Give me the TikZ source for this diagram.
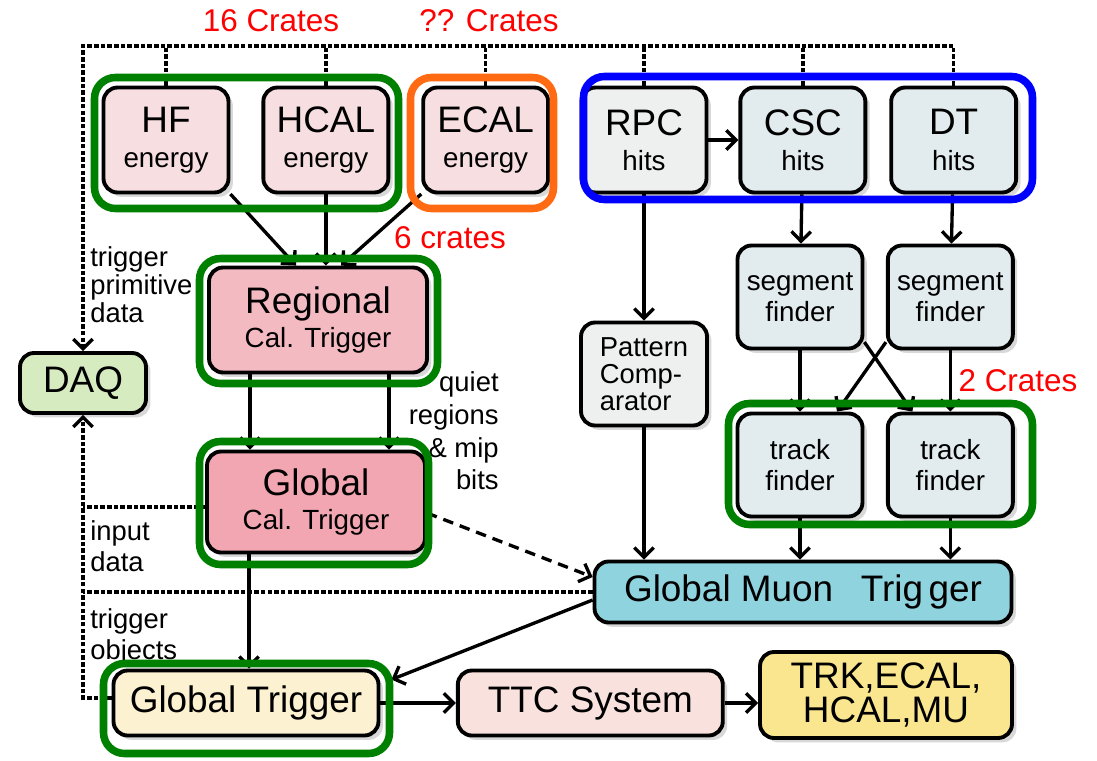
\documentclass[tikz,border=0pt]{standalone}
\usepackage{fontspec}
\setmainfont{Liberation Sans}
\usetikzlibrary{positioning, arrows.meta, fit, calc, shadows}

\definecolor{calpink}{RGB}{246,222,225}
\definecolor{regpink}{RGB}{244,186,194}
\definecolor{glbpink}{RGB}{241,166,177}
\definecolor{daqgreen}{RGB}{214,235,192}
\definecolor{rpcgrey}{RGB}{238,239,239}
\definecolor{muonblue}{RGB}{226,236,238}
\definecolor{gmtcyan}{RGB}{143,211,222}
\definecolor{gtcream}{RGB}{252,241,208}
\definecolor{ttcpink}{RGB}{249,226,221}
\definecolor{trkyellow}{RGB}{250,230,142}
\definecolor{cratesgreen}{RGB}{0,128,0}
\definecolor{cratesorange}{RGB}{255,106,19}
\definecolor{cratesblue}{RGB}{0,0,255}
\definecolor{cratered}{RGB}{255,0,0}

\newcommand{\bigfs}{\fontsize{21}{19}\selectfont}
\newcommand{\subfs}{\fontsize{15.8}{18}\selectfont}
\newcommand{\notefs}{\fontsize{15.6}{17.6}\selectfont}
\newcommand{\patfs}{\fontsize{15.6}{15.2}\selectfont}
\newcommand{\redfs}{\fontsize{17.9}{20}\selectfont}

\begin{document}
\begin{tikzpicture}[
    x=0.02cm, y=-0.02cm,
    box/.style={
      draw, line width=2.2pt, rounded corners=0.28cm, align=center,
      inner sep=0pt, font=\bigfs,
      drop shadow={shadow xshift=2.5pt, shadow yshift=-2.5pt, opacity=0.3}
    },
    detbox/.style={box, minimum width=2.5cm, minimum height=2.1cm},
    muonbox/.style={box, fill=muonblue, minimum width=2.5cm,
      minimum height=2.06cm, font=\subfs},
    crate/.style={draw=#1, line width=4.3pt, rounded corners=0.42cm, inner sep=0pt},
    arrow/.style={-{Straight Barb[length=5.5pt, width=11pt]}, line width=1.9pt},
    bus/.style={line width=2pt, dash pattern=on 2.6pt off 1.2pt},
    note/.style={font=\notefs, align=left, anchor=west, inner sep=0pt},
    crates/.style={font=\redfs, text=cratered, inner sep=0pt},
]
    \fill[white] (0,0) rectangle (1097,760);
    \useasboundingbox (0,0) rectangle (1097,760);

    % Calorimeter trigger primitives
    \node[detbox, fill=calpink] (hf) at (166,140) {HF\\[1pt]{\subfs energy}};
    \node[detbox, fill=calpink, right=0.62cm of hf] (hcal) {HCAL\\[1pt]{\subfs energy}};
    \node[detbox, fill=calpink, right=0.62cm of hcal] (ecal) {ECAL\\[1pt]{\subfs energy}};

    % Muon detectors
    \node[detbox, fill=rpcgrey] (rpc) at (644,140) {RPC\\[1pt]{\subfs hits}};
    \node[detbox, fill=muonblue, right=0.6cm of rpc] (csc) {CSC\\[1pt]{\subfs hits}};
    \node[detbox, fill=muonblue, right=0.44cm of csc] (dt) {DT\\[1pt]{\subfs hits}};

    \node[muonbox] (seg1) at (800,297) {segment\\finder};
    \node[muonbox, right=0.43cm of seg1] (seg2) {segment\\finder};
    \node[muonbox] (track1) at (800,465) {track\\finder};
    \node[muonbox, right=0.43cm of track1] (track2) {track\\finder};
    \node[box, fill=rpcgrey, minimum width=2.52cm, minimum height=2.06cm,
      font=\patfs, align=left] (pattern) at (644,374) {Pattern\\Comp-\\arator};

    % Calorimeter chain
    \node[box, fill=regpink, minimum width=4.36cm, minimum height=2.1cm]
      (regional) at (318,320) {Regional\\{\subfs Cal. Trigger}};
    \node[box, fill=glbpink, minimum width=4.36cm, minimum height=2.02cm]
      (global) at (316,502) {Global\\{\subfs Cal. Trigger}};
    \node[box, fill=daqgreen, minimum width=2.52cm, minimum height=1.2cm]
      (daq) at (83,383) {DAQ};

    % Muon and global trigger, distribution
    \node[box, fill=gmtcyan, minimum width=8.34cm, minimum height=1.22cm]
      (gmt) at (803,592) {Global Muon\hspace{0.75em}Trig\hspace{0.15em}ger};
    \node[box, fill=gtcream, minimum width=5.3cm, minimum height=1.3cm]
      (gt) at (246,703) {Global Trigger};
    \node[box, fill=ttcpink, minimum width=5.3cm, minimum height=1.3cm,
      right=1.51cm of gt] (ttc) {TTC System};
    \node[box, fill=trkyellow, minimum width=5.04cm, minimum height=1.72cm]
      (trk) at (886,695) {TRK,ECAL,\\HCAL,MU};

    % Readout bus to DAQ
    \coordinate (buscorner) at (83,46);
    \draw[bus, arrow] (dt.north) |- (buscorner) -- (daq.north);
    \foreach \det in {hf, hcal, ecal, rpc, csc}
      \draw[bus] (\det.north) -- (\det.north |- buscorner);
    \draw[bus, arrow] ($(gt.west)+(0,-5)$) -| (daq.south);
    \draw[bus] ($(global.west)+(0,5)$) coordinate (gin) -- (gin -| daq);
    \draw[bus] (gmt.west) -- (gmt.west -| daq);

    % Calorimeter data flow
    \draw[arrow] (hf.-40) -- ($(regional.north)+(-22,0)$);
    \draw[arrow] (hcal.south) -- (hcal.south |- regional.north);
    \draw[arrow] (ecal.-140) -- ($(regional.north)+(23,0)$);
    \draw[arrow] ($(regional.south)+(-68,0)$) coordinate (rl) -- (rl |- global.north);
    \draw[arrow] ($(regional.south)+(71,0)$) coordinate (rr) -- (rr |- global.north);
    \draw[arrow] ($(global.south)+(-67,0)$) coordinate (gl) -- (gl |- gt.north);
    \draw[arrow, dash pattern=on 6pt off 4pt]
      ($(global.east)+(0,11)$) -- ($(gmt.west)+(0,-15)$);

    % Muon data flow
    \draw[arrow] (rpc) -- (csc);
    \draw[arrow] (rpc) -- (pattern);
    \draw[arrow] (pattern.south) -- (pattern.south |- gmt.north);
    \draw[arrow] (csc) -- (seg1);
    \draw[arrow] (dt) -- (seg2);
    \draw[arrow] (seg1) -- (track1);
    \draw[arrow] (seg2) -- (track2);
    \draw[arrow] (seg1.-35) -- ($(track2.north)+(-38,0)$);
    \draw[arrow] (seg2.-145) -- ($(track1.north)+(37,0)$);
    \draw[arrow] (track1) -- (track1 |- gmt.north);
    \draw[arrow] (track2) -- (track2 |- gmt.north);

    % Global trigger and distribution
    \draw[arrow] ($(gmt.west)+(0,8)$) -- ($(gt.north east)+(11,11)$);
    \draw[arrow] (gt) -- (ttc);
    \draw[arrow] (ttc.east) -- (ttc.east -| trk.west);

    % Side notes
    \node[note] (primnote) at (90,285) {trigger\\[-1.7pt]primitive\\[-1.7pt]data};
    \node[note] (inputnote) at (90,546) {input\\data};
    \node[note] (objnote) at (90,637) {trigger\\objects};
    \node[note, anchor=east, align=right] (quietnote) at (499,431)
      {quiet\\[1pt]regions\\[1pt]\& mip\\[1pt]bits};

    % Crate groupings
    \node[crate=cratesgreen, fit={(94.5,77.5) (398.5,208.5)}] (hcalcrates) {};
    \node[crate=cratesorange, fit={(410.5,77.5) (553.5,208.5)}] (ecalcrates) {};
    \node[crate=cratesblue, fit={(583.5,76.5) (1032.5,199.5)}] (muoncrates) {};
    \node[crate=cratesgreen, fit={(199.5,258.5) (437.5,383.5)}] (rctcrates) {};
    \node[crate=cratesgreen, fit={(199.5,441.5) (428.5,564.5)}] (gctcrates) {};
    \node[crate=cratesgreen, fit={(728.5,403.5) (1032.5,524.5)}] (tfcrates) {};
    \node[crate=cratesgreen, fit={(103.5,663.5) (389.5,753.5)}] (gtcrates) {};

    \node[crates] (hcalcount) at (271,21) {16 Crates};
    \node[crates] (ecalcount) at (489,21) {?? Crates};
    \node[crates] (rctcount) at (450,238) {6 crates};
    \node[crates] (tfcount) at (1018,381) {2 Crates};
\end{tikzpicture}
\end{document}
